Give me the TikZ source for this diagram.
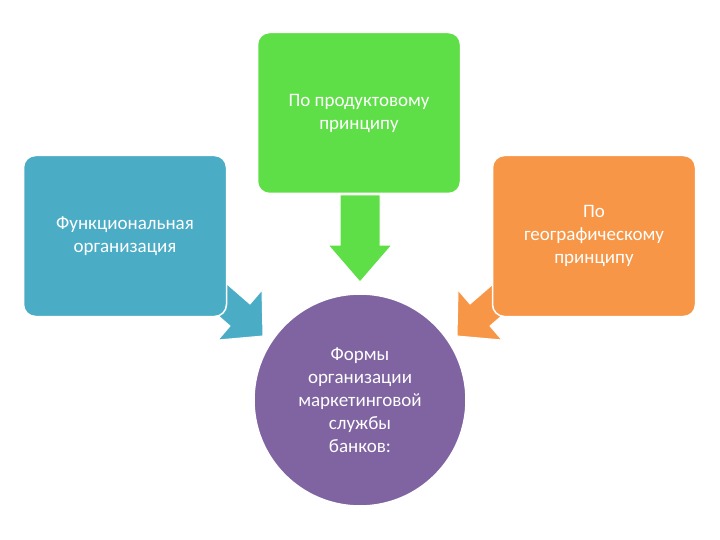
\documentclass[tikz,border=0pt]{standalone}
\usepackage{fontspec}
\setmainfont{Carlito}
\definecolor{cgreen}{HTML}{5FDF47}
\definecolor{cblue}{HTML}{4BACC6}
\definecolor{corange}{HTML}{F79646}
\definecolor{cpurple}{HTML}{8064A2}
\begin{document}
\begin{tikzpicture}[x=1pt,y=-1pt,
  box/.style={draw=white,line width=1.5pt,rounded corners=12pt,minimum width=203pt,minimum height=161pt,text=white,align=center,font=\fontsize{19}{23}\selectfont,inner sep=2pt},
  arr/.style={draw=white,line width=1pt,line join=miter}]
\useasboundingbox (0,0) rectangle (720,540);
% arrows behind boxes
\draw[arr,fill=cblue] (212,271) -- (250,304) -- (262,290) -- (263,336) -- (218,340) -- (230,326) -- (192,293) -- cycle;
\draw[arr,fill=corange] (508,271) -- (470,304) -- (458,290) -- (457,336) -- (502,340) -- (490,326) -- (528,293) -- cycle;
\node[box,fill=cgreen] (top) at (359,113) {По продуктовому\\принципу};
\node[box,fill=cblue] (left) at (125,236) {Функциональная\\организация};
\node[box,fill=corange] (right) at (594,236) {По\\географическому\\принципу};
\draw[arr,fill=cgreen] (340,195) -- (380,195) -- (380,245) -- (392,245) -- (360,282) -- (328,245) -- (340,245) -- cycle;
\node[circle,draw=white,line width=1.5pt,fill=cpurple,minimum size=212pt,text=white,align=center,font=\fontsize{19}{23}\selectfont] (c) at (360,400) {Формы\\организации\\маркетинговой\\службы\\банков:};
\end{tikzpicture}
\end{document}
